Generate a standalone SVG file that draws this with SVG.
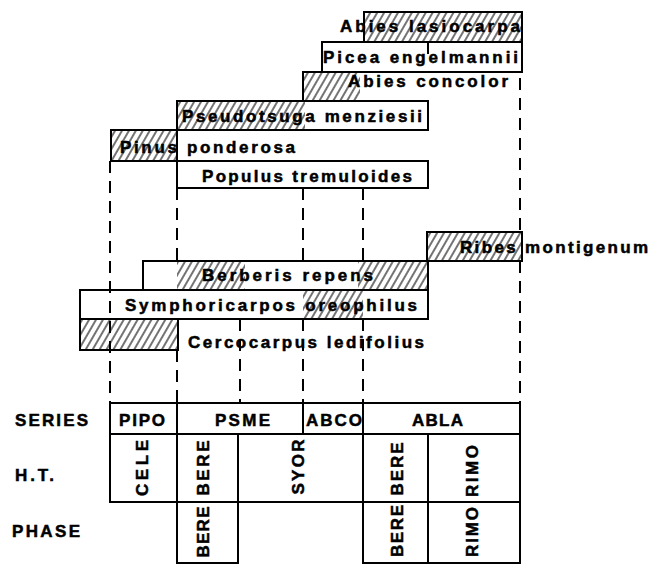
<svg xmlns="http://www.w3.org/2000/svg" width="662" height="565" viewBox="0 0 662 565">
<style>
text{font-family:"Liberation Sans",Arial,Helvetica,sans-serif;font-weight:bold;font-size:17px;fill:#000;stroke:#000;stroke-width:0.5}
.box{fill:none;stroke:#000;stroke-width:2}
.hatch{fill:url(#h);stroke:none}
.dash{stroke:#000;stroke-width:2;stroke-dasharray:12 8;fill:none}
.ln{stroke:#000;stroke-width:2;fill:none}
.rot{text-anchor:middle}
</style>
<defs>
<pattern id="h" width="6" height="12" patternUnits="userSpaceOnUse" patternTransform="rotate(30)">
<line x1="3" y1="0" x2="3" y2="12" stroke="#000" stroke-width="1.1"/>
</pattern>
</defs>
<rect width="662" height="565" fill="#fff"/>

<g id="connectors">
<line class="dash" x1="110" y1="161" x2="110" y2="403"/>
<line class="dash" x1="177" y1="188" x2="177" y2="261"/>
<line class="dash" x1="177" y1="350" x2="177" y2="403"/>
<line class="dash" x1="240" y1="319" x2="240" y2="403"/>
<line class="dash" x1="303" y1="188" x2="303" y2="261"/>
<line class="dash" x1="303" y1="319" x2="303" y2="403"/>
<line class="dash" x1="363" y1="188" x2="363" y2="261"/>
<line class="dash" x1="363" y1="319" x2="363" y2="403"/>
<line class="dash" x1="428" y1="42" x2="428" y2="60"/>
<line class="dash" x1="520" y1="78" x2="520" y2="232"/>
<line class="dash" x1="520" y1="261" x2="520" y2="403"/>
</g>

<g id="abies-lasiocarpa">
<rect class="hatch" x="364" y="12" width="158" height="30"/>
<rect class="box" x="364" y="12" width="158" height="30"/>
<text x="340" y="32" textLength="180" lengthAdjust="spacing">Abies lasiocarpa</text>
</g>
<g id="picea-engelmannii">
<rect class="box" x="322" y="42" width="200" height="30"/>
<text x="323" y="63" textLength="195" lengthAdjust="spacing">Picea engelmannii</text>
</g>
<g id="abies-concolor">
<rect class="hatch" x="303" y="72" width="57" height="29"/>
<path class="ln" d="M303,101 V72 H522"/>
<text x="348" y="87" textLength="160" lengthAdjust="spacing">Abies concolor</text>
</g>
<g id="pseudotsuga-menziesii">
<rect class="hatch" x="177" y="101" width="128" height="29"/>
<rect class="box" x="177" y="101" width="251" height="29"/>
<text x="182" y="122" textLength="240" lengthAdjust="spacing">Pseudotsuga menziesii</text>
</g>
<g id="pinus-ponderosa">
<rect class="hatch" x="111" y="130" width="66" height="31"/>
<rect class="box" x="111" y="130" width="66" height="31"/>
<text x="120" y="153" textLength="175" lengthAdjust="spacing">Pinus ponderosa</text>
</g>
<g id="populus-tremuloides">
<rect class="box" x="177" y="161" width="251" height="27"/>
<text x="202" y="182" textLength="210" lengthAdjust="spacing">Populus tremuloides</text>
</g>
<g id="ribes-montigenum">
<rect class="hatch" x="427" y="232" width="95" height="29"/>
<rect class="box" x="427" y="232" width="95" height="29"/>
<text x="460" y="253" textLength="188" lengthAdjust="spacing">Ribes montigenum</text>
</g>
<g id="berberis-repens">
<rect class="hatch" x="177" y="261" width="68" height="29"/>
<rect class="hatch" x="358" y="261" width="70" height="29"/>
<rect class="box" x="143" y="261" width="285" height="29"/>
<text x="202" y="281" textLength="171" lengthAdjust="spacing">Berberis repens</text>
</g>
<g id="symphoricarpos-oreophilus">
<rect class="hatch" x="303" y="290" width="60" height="29"/>
<rect class="box" x="80" y="290" width="348" height="29"/>
<text x="125" y="311" textLength="292" lengthAdjust="spacing">Symphoricarpos oreophilus</text>
</g>
<g id="cercocarpus-ledifolius">
<rect class="hatch" x="80" y="319" width="98" height="31"/>
<rect class="box" x="80" y="319" width="98" height="31"/>
<text x="188" y="348" textLength="236" lengthAdjust="spacing">Cercocarpus ledifolius</text>
</g>

<g id="row-labels">
<text x="15" y="426" textLength="73" lengthAdjust="spacing">SERIES</text>
<text x="15" y="481" textLength="39" lengthAdjust="spacing">H.T.</text>
<text x="12" y="537" textLength="68" lengthAdjust="spacing">PHASE</text>
</g>

<g id="series-row">
<rect class="box" x="110" y="403" width="410" height="31"/>
<line class="ln" x1="177" y1="403" x2="177" y2="434"/>
<line class="ln" x1="303" y1="403" x2="303" y2="434"/>
<line class="ln" x1="363" y1="403" x2="363" y2="434"/>
<text x="119" y="426" textLength="46" lengthAdjust="spacing">PIPO</text>
<text x="215" y="426" textLength="55" lengthAdjust="spacing">PSME</text>
<text x="306" y="426" textLength="56" lengthAdjust="spacing">ABCO</text>
<text x="412" y="426" textLength="51" lengthAdjust="spacing">ABLA</text>
</g>

<g id="ht-row">
<rect class="box" x="110" y="434" width="410" height="68"/>
<line class="ln" x1="177" y1="434" x2="177" y2="502"/>
<line class="ln" x1="238" y1="434" x2="238" y2="502"/>
<line class="ln" x1="363" y1="434" x2="363" y2="502"/>
<line class="ln" x1="428" y1="434" x2="428" y2="502"/>
<text class="rot" transform="translate(142,468) rotate(-90)" x="0" y="6" textLength="56" lengthAdjust="spacing">CELE</text>
<text class="rot" transform="translate(203,468) rotate(-90)" x="0" y="6" textLength="55" lengthAdjust="spacing">BERE</text>
<text class="rot" transform="translate(298,467) rotate(-90)" x="0" y="6" textLength="55" lengthAdjust="spacing">SYOR</text>
<text class="rot" transform="translate(397,469) rotate(-90)" x="0" y="6" textLength="53" lengthAdjust="spacing">BERE</text>
<text class="rot" transform="translate(472,471) rotate(-90)" x="0" y="6" textLength="52" lengthAdjust="spacing">RIMO</text>
</g>

<g id="phase-row">
<line class="ln" x1="177" y1="502" x2="177" y2="564"/>
<line class="ln" x1="238" y1="502" x2="238" y2="564"/>
<line class="ln" x1="363" y1="502" x2="363" y2="564"/>
<line class="ln" x1="428" y1="502" x2="428" y2="564"/>
<line class="ln" x1="520" y1="502" x2="520" y2="564"/>
<line class="ln" x1="176" y1="563" x2="239" y2="563"/>
<line class="ln" x1="362" y1="563" x2="521" y2="563"/>
<text class="rot" transform="translate(203,532) rotate(-90)" x="0" y="6" textLength="51" lengthAdjust="spacing">BERE</text>
<text class="rot" transform="translate(397,531) rotate(-90)" x="0" y="6" textLength="52" lengthAdjust="spacing">BERE</text>
<text class="rot" transform="translate(472,532) rotate(-90)" x="0" y="6" textLength="50" lengthAdjust="spacing">RIMO</text>
</g>
</svg>
